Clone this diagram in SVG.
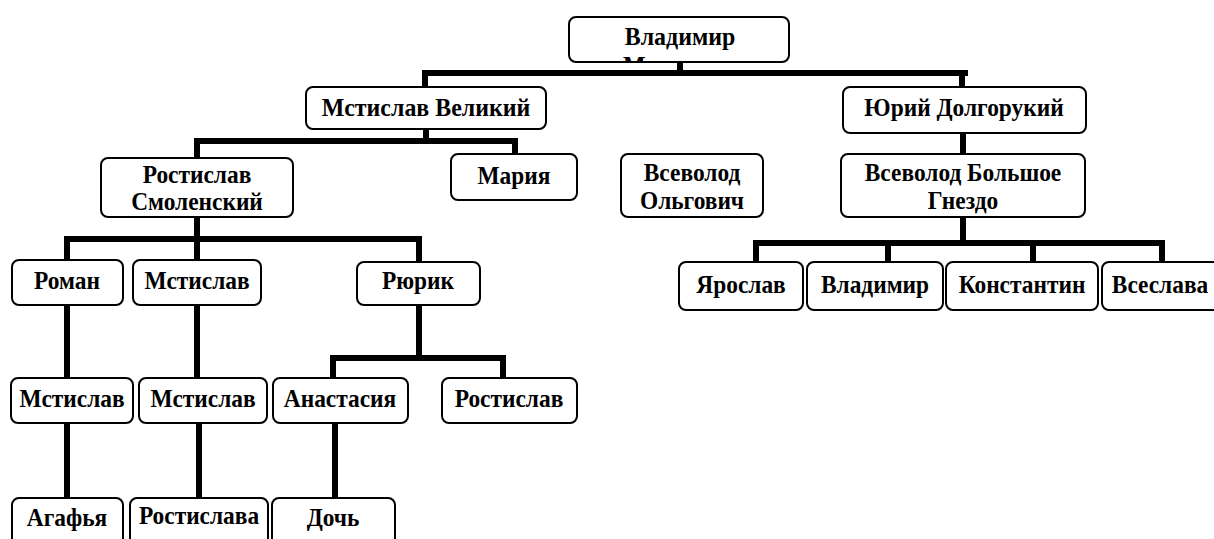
<svg xmlns="http://www.w3.org/2000/svg" width="1214" height="539" viewBox="0 0 1214 539">
<defs>
<style>
.box{fill:#fff;stroke:#000;stroke-width:2}
.t{font-family:"Liberation Serif","Times New Roman",serif;font-weight:bold;font-size:26px;fill:#000;text-anchor:middle}
.c{stroke:#000;stroke-width:6;fill:none;stroke-linecap:butt}
</style>
<clipPath id="clipTop"><rect x="560" y="0" width="240" height="63"/></clipPath>
</defs>
<rect width="1214" height="539" fill="#fff"/>
<g id="connectors">
<path class="c" d="M680 62V73M422 73H968M425 73V87M962 73V87"/>
<path class="c" d="M426 129V141M194 141H518M197 141V158M515 141V154"/>
<path class="c" d="M963 133V154"/>
<path class="c" d="M197 217V239M64 239H422M67 239V260M197 239V260M419 239V262"/>
<path class="c" d="M963 217V243M753 243H1165M756 243V262M888 243V262M1033 243V262M1162 243V262"/>
<path class="c" d="M67 305V378M67 423V498"/>
<path class="c" d="M197 305V378M199 423V498"/>
<path class="c" d="M419 305V358M330 358H506M333 358V378M503 358V378"/>
<path class="c" d="M335 423V498"/>
</g>
<g id="vladimir">
<rect class="box" x="569" y="17" width="220" height="45" rx="7"/>
<text class="t" transform="translate(680 45) scale(0.92 1)">Владимир</text>
<g clip-path="url(#clipTop)"><text class="t" style="text-anchor:start" transform="translate(623 74) scale(0.92 1)">Мономах</text></g>
</g>
<g id="mstislav-veliky"><rect class="box" x="306" y="87" width="240" height="42" rx="7"/><text class="t" transform="translate(426 116) scale(0.92 1)">Мстислав Великий</text></g>
<g id="yuri"><rect class="box" x="843" y="87" width="243" height="46" rx="7"/><text class="t" transform="translate(964 116) scale(0.9 1)">Юрий Долгорукий</text></g>
<g id="rostislav-smol"><rect class="box" x="101" y="158" width="192" height="59" rx="7"/><text class="t" transform="translate(197 183) scale(0.9 1)">Ростислав</text><text class="t" transform="translate(197 210) scale(0.9 1)">Смоленский</text></g>
<g id="maria"><rect class="box" x="451" y="154" width="126" height="46" rx="7"/><text class="t" transform="translate(514 184) scale(0.9 1)">Мария</text></g>
<g id="vsevolod-olg"><rect class="box" x="621" y="154" width="142" height="63" rx="7"/><text class="t" transform="translate(692 181) scale(0.9 1)">Всеволод</text><text class="t" transform="translate(692 209) scale(0.9 1)">Ольгович</text></g>
<g id="vsevolod-bg"><rect class="box" x="841" y="154" width="244" height="63" rx="7"/><text class="t" transform="translate(963 181) scale(0.9 1)">Всеволод Большое</text><text class="t" transform="translate(963 209) scale(0.9 1)">Гнездо</text></g>
<g id="roman"><rect class="box" x="12" y="260" width="111" height="45" rx="7"/><text class="t" transform="translate(67 289) scale(0.9 1)">Роман</text></g>
<g id="mstislav-a"><rect class="box" x="133" y="260" width="128" height="45" rx="7"/><text class="t" transform="translate(197 289) scale(0.9 1)">Мстислав</text></g>
<g id="ryurik"><rect class="box" x="357" y="262" width="123" height="43" rx="7"/><text class="t" transform="translate(418 289) scale(0.9 1)">Рюрик</text></g>
<g id="yaroslav"><rect class="box" x="679" y="262" width="124" height="48" rx="7"/><text class="t" transform="translate(741 293) scale(0.9 1)">Ярослав</text></g>
<g id="vladimir2"><rect class="box" x="807" y="262" width="136" height="48" rx="7"/><text class="t" transform="translate(875 293) scale(0.9 1)">Владимир</text></g>
<g id="konstantin"><rect class="box" x="946" y="262" width="152" height="48" rx="7"/><text class="t" transform="translate(1022 293) scale(0.9 1)">Константин</text></g>
<g id="vseslava"><rect class="box" x="1102" y="262" width="118" height="48" rx="7"/><text class="t" transform="translate(1160 293) scale(0.9 1)">Всеслава</text></g>
<g id="mstislav-b"><rect class="box" x="11" y="378" width="122" height="45" rx="7"/><text class="t" transform="translate(72 407) scale(0.9 1)">Мстислав</text></g>
<g id="mstislav-c"><rect class="box" x="139" y="378" width="128" height="45" rx="7"/><text class="t" transform="translate(203 407) scale(0.9 1)">Мстислав</text></g>
<g id="anastasia"><rect class="box" x="273" y="378" width="135" height="45" rx="7"/><text class="t" transform="translate(340 407) scale(0.9 1)">Анастасия</text></g>
<g id="rostislav"><rect class="box" x="442" y="378" width="135" height="45" rx="7"/><text class="t" transform="translate(509 407) scale(0.9 1)">Ростислав</text></g>
<g id="agafya"><rect class="box" x="12" y="498" width="111" height="50" rx="7"/><text class="t" transform="translate(67 526) scale(0.9 1)">Агафья</text></g>
<g id="rostislava"><rect class="box" x="130" y="498" width="138" height="50" rx="7"/><text class="t" transform="translate(199 524) scale(0.9 1)">Ростислава</text></g>
<g id="doch"><rect class="box" x="272" y="498" width="123" height="50" rx="7"/><text class="t" transform="translate(333 526) scale(0.9 1)">Дочь</text></g>
</svg>
